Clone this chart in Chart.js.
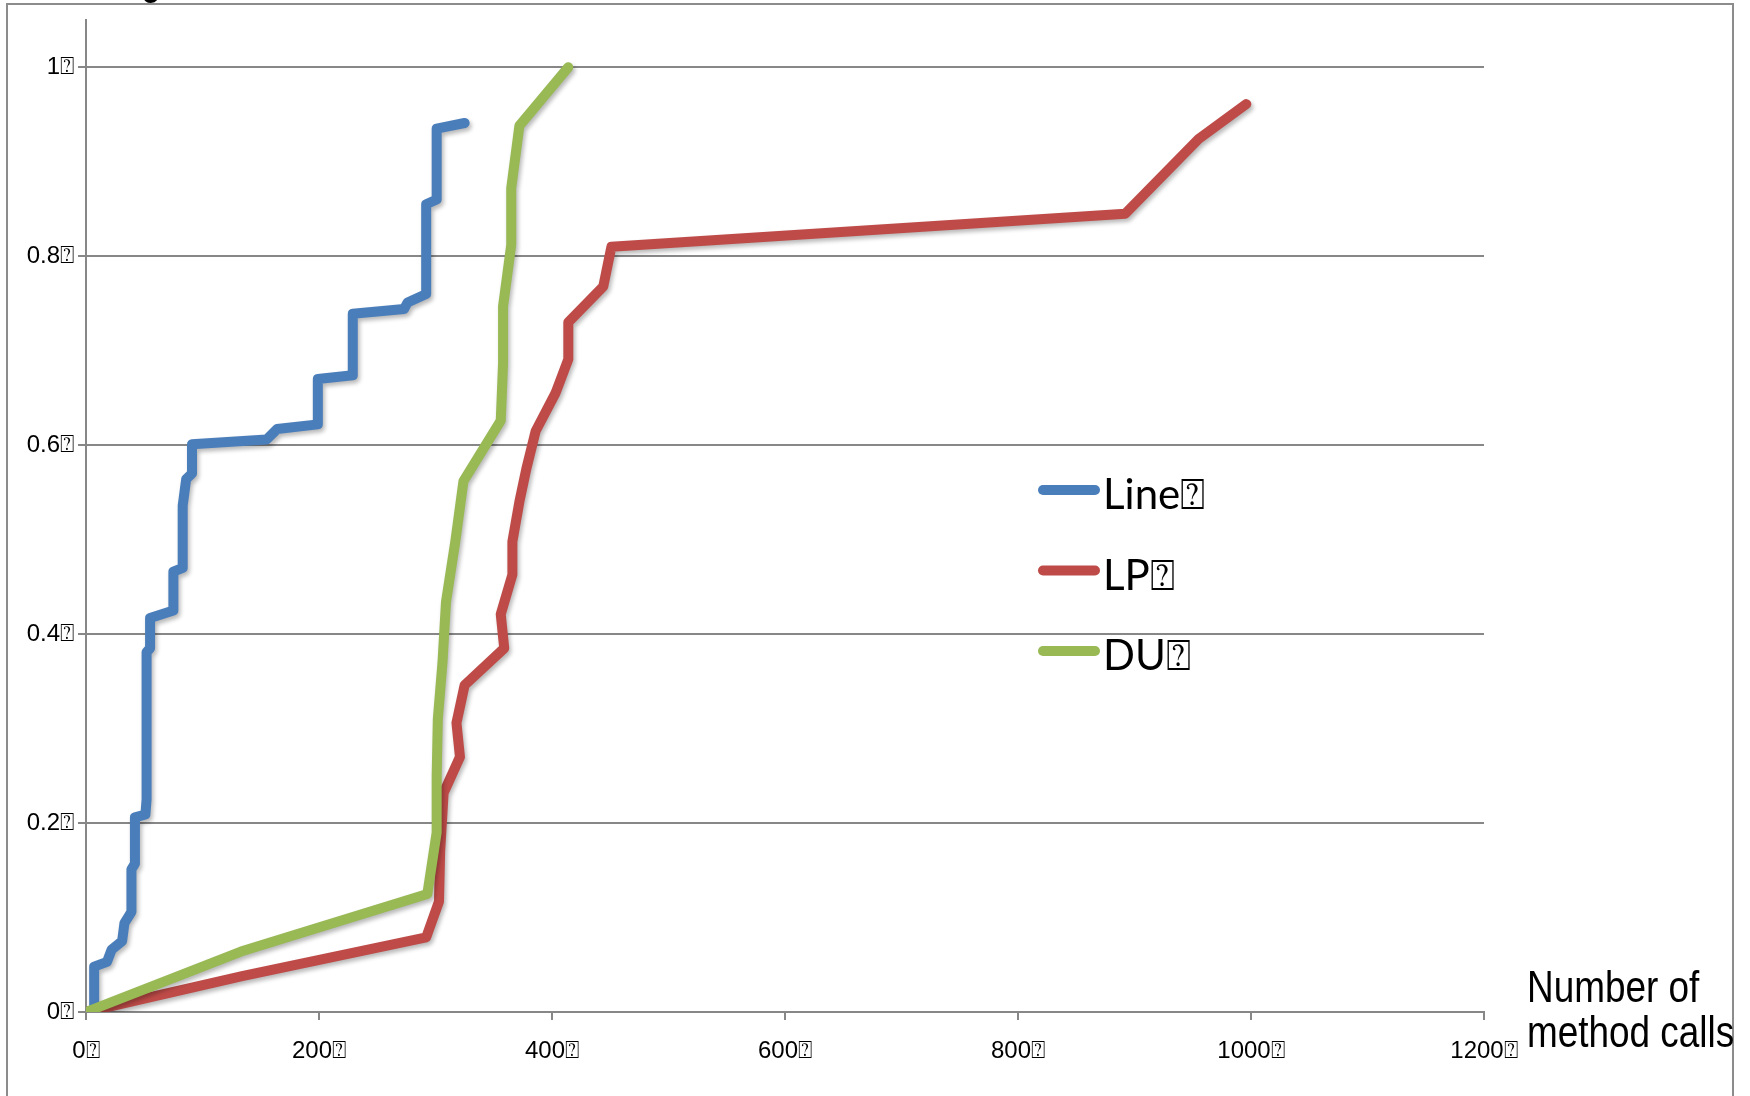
<!DOCTYPE html>
<html>
<head>
<meta charset="utf-8">
<script src="https://cdn.jsdelivr.net/npm/chart.js@4.4.1/dist/chart.umd.min.js"></script>
<style>
  html, body { margin: 0; padding: 0; background: #fff; }
  canvas { display: block; }
</style>
</head>
<body>
<canvas id="coverageChart" width="1750" height="1096"></canvas>
<script>
// the odd box glyph that follows every label in the original
const BOX = '\u2370';

// x ticks (method calls) and y ticks (coverage)
const xTicks = [0, 200, 400, 600, 800, 1000, 1200];
const xTickLabels = ['0', '200', '400', '600', '800', '1000', '1200'];
const yTicks = [0, 0.2, 0.4, 0.6, 0.8, 1];
const yTickLabels = ['0', '0.2', '0.4', '0.6', '0.8', '1'];

const seriesNames = ['Line', 'LP', 'DU'];
const seriesColors = ['#4A7EBB', '#BE4B48', '#98B954'];

// Line coverage
const lineCalls = [7, 7, 18, 22, 31, 33, 39, 39, 42, 42, 51, 52, 52, 55, 55, 75, 75, 83, 83, 86, 91, 91, 155, 164, 199, 199, 229, 229, 273, 276, 292, 292, 301, 301, 325];
const lineCov = [0, 0.048, 0.053, 0.066, 0.075, 0.094, 0.106, 0.151, 0.157, 0.206, 0.209, 0.225, 0.381, 0.385, 0.417, 0.425, 0.466, 0.470, 0.536, 0.564, 0.570, 0.601, 0.606, 0.617, 0.622, 0.670, 0.674, 0.739, 0.744, 0.751, 0.760, 0.855, 0.860, 0.935, 0.941];

// LP coverage
const lpCalls = [0, 134, 292, 303, 304, 307, 321, 318, 325, 359, 356, 366, 366, 372, 378, 386, 403, 414, 414, 444, 451, 892, 955, 996];
const lpCov = [0, 0.038, 0.079, 0.117, 0.17, 0.232, 0.27, 0.306, 0.346, 0.385, 0.421, 0.463, 0.498, 0.54, 0.575, 0.615, 0.655, 0.691, 0.73, 0.768, 0.81, 0.845, 0.924, 0.961];

// DU coverage
const duCalls = [0, 133, 293, 301, 301, 302, 306, 309, 317, 324, 356, 358, 358, 365, 365, 372, 414];
const duCov = [0, 0.064, 0.125, 0.19, 0.25, 0.31, 0.37, 0.434, 0.498, 0.562, 0.626, 0.687, 0.747, 0.812, 0.872, 0.938, 1.0];

const xTitleLines = ['Number of', 'method calls'];
const yTitle = 'Coverage';

const toPoints = (xs, ys) => xs.map((x, i) => ({ x: x, y: ys[i] }));

const gridGray = '#878787';
const tickFont = { family: "'Liberation Sans', Arial, sans-serif", size: 24 };

// soft drop shadow under the thick lines, like the old office charts
const shadowPlugin = {
    id: 'lineShadow',
    beforeDatasetDraw(chart) {
        const c = chart.ctx;
        c.save();
        c.shadowColor = 'rgba(0, 0, 0, 0.28)';
        c.shadowBlur = 4;
        c.shadowOffsetX = 2;
        c.shadowOffsetY = 3;
    },
    afterDatasetDraw(chart) {
        chart.ctx.restore();
    }
};

// white page + grey frame
const framePlugin = {
    id: 'frame',
    beforeDraw(chart) {
        const c = chart.ctx;
        c.save();
        c.fillStyle = '#fff';
        c.fillRect(0, 0, chart.width, chart.height);
        c.strokeStyle = '#8c8c8c';
        c.lineWidth = 2;
        c.strokeRect(7, 4, 1726, 1100);
        c.restore();
    }
};

// narrow text: squeeze a normal face horizontally
const narrowText = (c, text, x, y) => {
    c.save();
    c.translate(x, y);
    c.scale(0.82, 1);
    c.fillText(text, 0, 0);
    c.restore();
};

// legend inside the plot + axis titles
const textPlugin = {
    id: 'texts',
    afterDraw(chart) {
        const c = chart.ctx;
        c.save();
        chart.data.datasets.forEach((ds, i) => {
            const y = 490 + i * 80.5;
            c.strokeStyle = ds.borderColor;
            c.lineWidth = 10;
            c.lineCap = 'round';
            c.beginPath();
            c.moveTo(1043, y);
            c.lineTo(1095, y);
            c.stroke();
            c.fillStyle = '#000';
            c.font = "42px Lato, 'Open Sans', sans-serif";
            c.textBaseline = 'alphabetic';
            c.textAlign = 'left';
            c.fillText(ds.label + BOX, 1103, y + 19);
        });

        c.fillStyle = '#000';
        c.font = "45px 'Liberation Sans', Arial, sans-serif";
        c.textAlign = 'left';
        c.textBaseline = 'alphabetic';
        narrowText(c, xTitleLines[0], 1527, 1002);
        narrowText(c, xTitleLines[1], 1527, 1047);

        // y title sits above the picture, only the tail of the g shows
        narrowText(c, yTitle, 22, -6);
        c.restore();
    }
};

const ctx = document.getElementById('coverageChart').getContext('2d');

const series = [toPoints(lineCalls, lineCov), toPoints(lpCalls, lpCov), toPoints(duCalls, duCov)];

const chart = new Chart(ctx, {
    type: 'scatter',
    data: {
        datasets: series.map((pts, i) => ({
            label: seriesNames[i],
            data: pts,
            showLine: true,
            borderColor: seriesColors[i],
            backgroundColor: seriesColors[i],
            borderWidth: 10,
            borderCapStyle: 'round',
            borderJoinStyle: 'round',
            pointRadius: 0,
            pointHoverRadius: 0,
            tension: 0,
            order: 3 - i
        }))
    },
    options: {
        responsive: false,
        animation: false,
        devicePixelRatio: 1,
        layout: {
            padding: { left: 0, top: 20, right: 266, bottom: 0 }
        },
        plugins: {
            legend: { display: false },
            title: { display: false },
            tooltip: { enabled: false }
        },
        scales: {
            x: {
                type: 'linear',
                min: 0,
                max: 1200,
                afterBuildTicks: (scale) => {
                    scale.ticks = xTicks.map(v => ({ value: v }));
                },
                afterFit: (scale) => {
                    scale.height = 84;
                },
                ticks: {
                    autoSkip: false,
                    maxRotation: 0,
                    padding: 17,
                    color: '#000',
                    font: tickFont,
                    callback: (value, index) => xTickLabels[index] + BOX
                },
                grid: {
                    drawOnChartArea: false,
                    drawTicks: true,
                    tickLength: 8,
                    color: gridGray,
                    lineWidth: 2
                },
                border: { color: gridGray, width: 2 }
            },
            y: {
                type: 'linear',
                min: 0,
                max: 1.05,
                afterBuildTicks: (scale) => {
                    scale.ticks = yTicks.map(v => ({ value: v }));
                },
                afterFit: (scale) => {
                    scale.width = 86;
                },
                ticks: {
                    autoSkip: false,
                    padding: 4,
                    color: '#000',
                    font: tickFont,
                    callback: (value, index) => yTickLabels[index] + BOX
                },
                grid: {
                    drawTicks: true,
                    tickLength: 8,
                    color: gridGray,
                    lineWidth: 2
                },
                border: { color: gridGray, width: 2 }
            }
        }
    },
    plugins: [framePlugin, shadowPlugin, textPlugin]
});
</script>
</body>
</html>
